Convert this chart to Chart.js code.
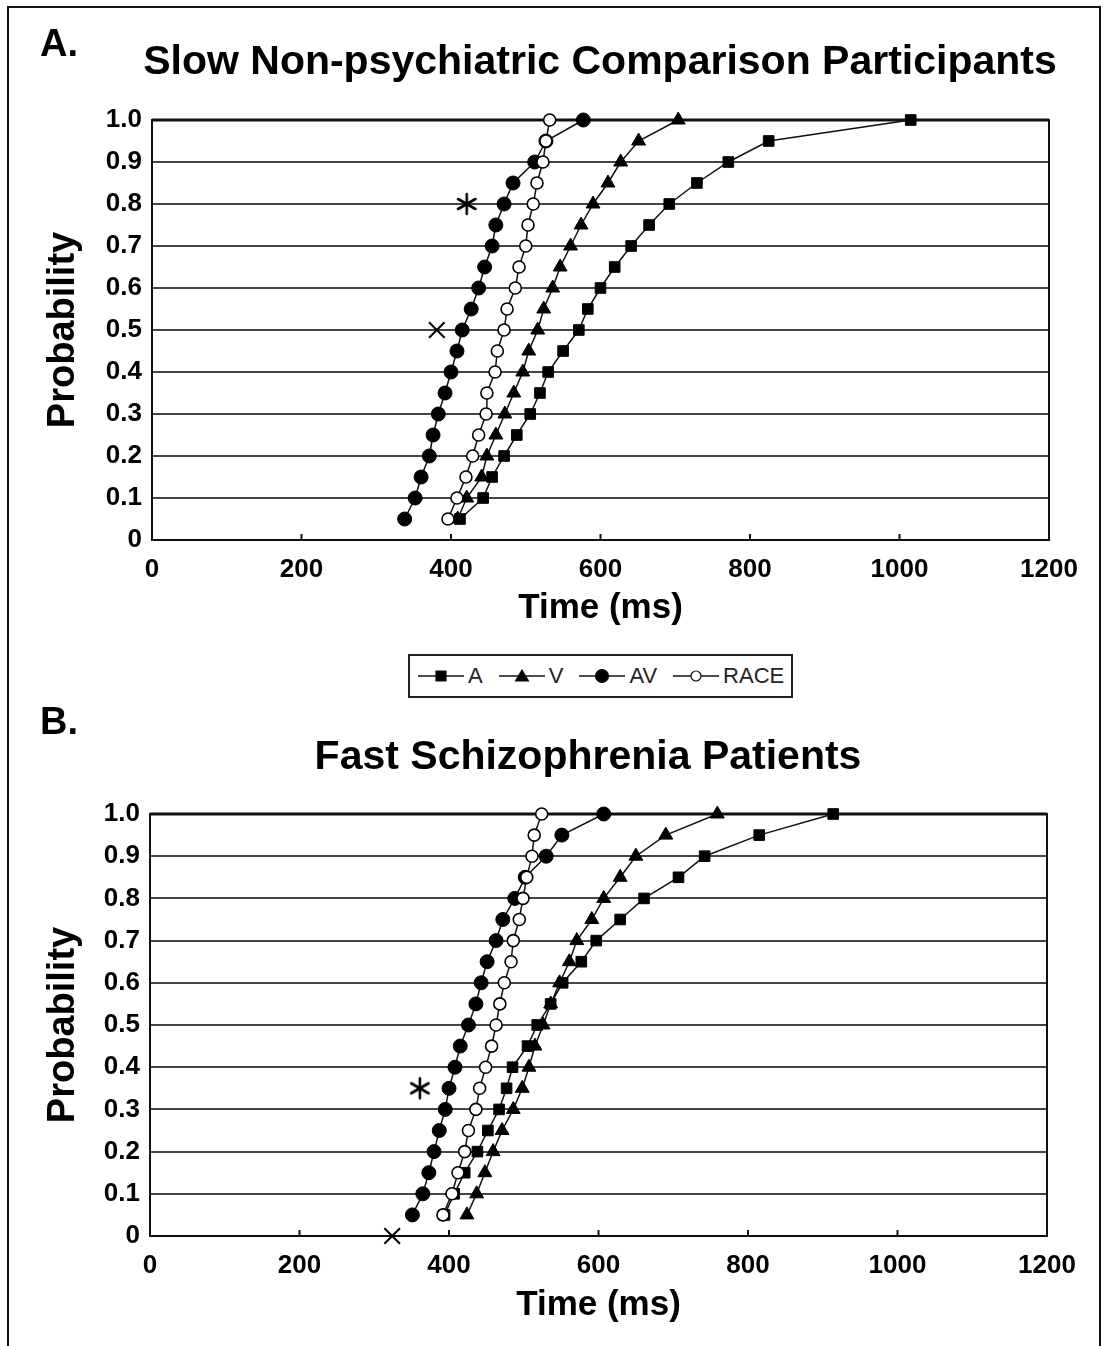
<!DOCTYPE html>
<html>
<head>
<meta charset="utf-8">
<script src="https://cdn.jsdelivr.net/npm/chart.js@4.4.0/dist/chart.umd.min.js"></script>
<style>
  body { margin: 0; background: #fff; width: 1104px; height: 1346px; overflow: hidden; position: relative;
         font-family: "Liberation Sans", Arial, sans-serif; }
  .frame { position: absolute; left: 7px; top: 6px; width: 1090px; height: 1400px; border: 2px solid #111; }
  .panel-label { position: absolute; left: 40px; font-weight: bold; font-size: 38px; line-height: 1; color: #000; }
  .chart-title { position: absolute; width: 1000px; text-align: center; font-weight: bold; font-size: 41px;
                 line-height: 41px; color: #000; white-space: nowrap; }
  #wrapA { position: absolute; left: 0; top: 0; width: 1104px; height: 640px; }
  #wrapB { position: absolute; left: 0; top: 694px; width: 1104px; height: 652px; }
  .legend { position: absolute; left: 408px; top: 654px; width: 374px; height: 40px; border: 2px solid #222;
            display: flex; align-items: center; padding-left: 7px; box-sizing: content-box;
            font-size: 22px; color: #222; }
  .legend span { display: flex; align-items: center; gap: 3px; margin-right: 15px; }
</style>
</head>
<body>
<div class="frame"></div>
<div id="wrapA"><canvas id="chartA" width="1104" height="640"></canvas></div>
<div class="panel-label" style="top:24px">A.</div>
<div class="chart-title" id="titleA" style="left:100px; top:40px"></div>
<div class="legend" id="legend"></div>
<div id="wrapB"><canvas id="chartB" width="1104" height="652"></canvas></div>
<div class="panel-label" style="top:702px">B.</div>
<div class="chart-title" id="titleB" style="left:88px; top:735px"></div>
<script>
// probability levels (quantiles) shared by every series
const probLevels = [0.05, 0.10, 0.15, 0.20, 0.25, 0.30, 0.35, 0.40, 0.45, 0.50,
                    0.55, 0.60, 0.65, 0.70, 0.75, 0.80, 0.85, 0.90, 0.95, 1.00];
const xTickLabels = ['0', '200', '400', '600', '800', '1000', '1200'];
const yTickLabels = ['0', '0.1', '0.2', '0.3', '0.4', '0.5', '0.6', '0.7', '0.8', '0.9', '1.0'];
const seriesNames = ['A', 'V', 'AV', 'RACE'];

// A. Slow non-psychiatric comparison participants (ms)
const slowA    = [412, 443, 455, 471, 488, 506, 519, 530, 550, 571, 583, 600, 619, 641, 665, 692, 729, 771, 825, 1015];
const slowV    = [409, 421, 441, 448, 460, 472, 484, 496, 504, 516, 524, 536, 546, 560, 574, 590, 610, 627, 651, 704];
const slowAV   = [338, 352, 360, 371, 376, 383, 392, 400, 408, 415, 427, 437, 445, 455, 460, 471, 483, 512, 527, 577];
const slowRACE = [396, 408, 420, 429, 437, 447, 448, 459, 462, 471, 475, 486, 491, 500, 503, 510, 515, 523, 527, 532];
// asterisk and cross annotations (time, probability)
const slowStar  = [421, 0.8];
const slowCross = [381, 0.5];

// B. Fast schizophrenia patients (ms)
const fastA    = [394, 407, 421, 438, 452, 467, 477, 485, 505, 518, 536, 552, 577, 597, 629, 661, 707, 742, 815, 914];
const fastV    = [424, 437, 448, 459, 471, 486, 498, 507, 515, 526, 536, 548, 561, 571, 591, 607, 629, 650, 690, 759];
const fastAV   = [351, 365, 373, 380, 387, 395, 400, 408, 415, 426, 436, 443, 451, 463, 472, 488, 502, 530, 551, 607];
const fastRACE = [392, 404, 412, 421, 426, 436, 441, 449, 457, 463, 468, 474, 483, 486, 494, 499, 504, 511, 514, 524];
const fastStar  = [361, 0.35];
const fastCross = [324, 0];

const titleA = 'Slow Non-psychiatric Comparison Participants';
const titleB = 'Fast Schizophrenia Patients';

const FONT = '"Liberation Sans", Arial, sans-serif';
const seriesStyles = {
  A:    { pointStyle: 'rect',     radius: 7.5, fill: '#000', border: 1,   order: 3 },
  V:    { pointStyle: 'triangle', radius: 8,   fill: '#000', border: 1,   order: 2 },
  AV:   { pointStyle: 'circle',   radius: 7,   fill: '#000', border: 1,   order: 1 },
  RACE: { pointStyle: 'circle',   radius: 6,   fill: '#fff', border: 1.6, order: 0 }
};

// six-armed asterisk used as a point style
function asteriskImage() {
  const cv = document.createElement('canvas');
  cv.width = 24; cv.height = 24;
  const c = cv.getContext('2d');
  c.strokeStyle = '#000';
  c.lineWidth = 2.6;
  c.lineCap = 'round';
  [90, 30, 150].forEach(deg => {
    const r = deg * Math.PI / 180, dx = Math.cos(r) * 10, dy = Math.sin(r) * 10;
    c.beginPath(); c.moveTo(12 - dx, 12 - dy); c.lineTo(12 + dx, 12 + dy); c.stroke();
  });
  return cv;
}
const starStyle = asteriskImage();

// frame round the plot plus small inward ticks on the x axis
const framePlugin = {
  id: 'frame',
  beforeDatasetsDraw(chart) {
    const { ctx, chartArea: a } = chart;
    const xs = chart.scales.x;
    ctx.save();
    ctx.strokeStyle = '#111';
    ctx.lineWidth = 2;
    ctx.beginPath();
    xs.ticks.forEach((t, i) => {
      const px = xs.getPixelForTick(i);
      ctx.moveTo(px, a.bottom);
      ctx.lineTo(px, a.bottom - 6);
    });
    ctx.stroke();
    ctx.strokeRect(a.left, a.top, a.right - a.left, a.bottom - a.top);
    ctx.lineWidth = 3;
    ctx.beginPath();
    ctx.moveTo(a.left, a.top);
    ctx.lineTo(a.right, a.top);
    ctx.stroke();
    ctx.restore();
  }
};

function buildDatasets(series, star, cross) {
  const ds = seriesNames.map((name, i) => {
    const st = seriesStyles[name];
    return {
      label: name,
      data: series[i].map((t, k) => ({ x: t, y: probLevels[k] })),
      showLine: true,
      borderColor: '#111',
      borderWidth: 1.5,
      pointStyle: st.pointStyle,
      pointRadius: st.radius,
      pointBackgroundColor: st.fill,
      pointBorderColor: '#000',
      pointBorderWidth: st.border,
      order: st.order,
      clip: false
    };
  });
  ds.push({ label: 'star', data: [{ x: star[0], y: star[1] }], pointStyle: starStyle, pointRadius: 12,
            showLine: false, clip: false, order: 0 });
  ds.push({ label: 'cross', data: [{ x: cross[0], y: cross[1] }], pointStyle: 'crossRot', pointRadius: 11,
            pointBorderColor: '#000', pointBorderWidth: 2, showLine: false, clip: false, order: 0 });
  return ds;
}

function makeChart(id, series, star, cross, dims) {
  new Chart(document.getElementById(id), {
    type: 'scatter',
    data: { datasets: buildDatasets(series, star, cross) },
    options: {
      responsive: false,
      animation: false,
      layout: { padding: { top: 120, left: 0, right: dims.right, bottom: 0 } },
      plugins: {
        legend: { display: false },
        tooltip: { enabled: false }
      },
      scales: {
        x: {
          type: 'linear', min: 0, max: 1200,
          afterFit: s => { s.height = dims.xHeight; },
          grid: { display: false, drawTicks: false },
          border: { display: false },
          ticks: {
            stepSize: 200, padding: 14, color: '#000',
            font: { family: FONT, size: 26, weight: 'bold' },
            callback: (v, i) => xTickLabels[i]
          },
          title: {
            display: true, text: 'Time (ms)', color: '#000',
            font: { family: FONT, size: 35, weight: 'bold' },
            padding: { top: 0, bottom: dims.xTitlePad }
          }
        },
        y: {
          min: 0, max: 1,
          afterFit: s => { s.width = dims.yWidth; },
          grid: { color: '#444', lineWidth: 2, drawTicks: false },
          border: { display: false },
          ticks: {
            stepSize: 0.1, padding: 10, color: '#000',
            font: { family: FONT, size: 26, weight: 'bold' },
            callback: (v, i) => yTickLabels[i]
          },
          title: {
            display: true, text: 'Probability', color: '#000',
            font: { family: FONT, size: 38, weight: 'bold' },
            padding: { top: 41, bottom: 0 }
          }
        }
      }
    },
    plugins: [framePlugin]
  });
}

document.getElementById('titleA').textContent = titleA;
document.getElementById('titleB').textContent = titleB;

makeChart('chartA', [slowA, slowV, slowAV, slowRACE], slowStar, slowCross,
  { right: 55, yWidth: 152, xHeight: 100, xTitlePad: 11 });

makeChart('chartB', [fastA, fastV, fastAV, fastRACE], fastStar, fastCross,
  { right: 57, yWidth: 150, xHeight: 110, xTitlePad: 20 });

// legend: line with marker, then series name
function drawIcon(cv, st) {
  const c = cv.getContext('2d');
  const w = cv.width, h = cv.height, cx = w / 2, cy = h / 2;
  c.strokeStyle = '#111';
  c.lineWidth = 1.5;
  c.beginPath(); c.moveTo(1, cy); c.lineTo(w - 1, cy); c.stroke();
  c.fillStyle = st.fill;
  c.lineWidth = 1.2;
  c.beginPath();
  if (st.pointStyle === 'rect') {
    c.rect(cx - 5, cy - 5, 10, 10);
  } else if (st.pointStyle === 'triangle') {
    c.moveTo(cx, cy - 6); c.lineTo(cx + 6.5, cy + 5); c.lineTo(cx - 6.5, cy + 5); c.closePath();
  } else {
    c.arc(cx, cy, st.fill === '#fff' ? 5 : 6.5, 0, Math.PI * 2);
  }
  c.fill();
  c.stroke();
}
const legendEl = document.getElementById('legend');
seriesNames.forEach(name => {
  const item = document.createElement('span');
  const cv = document.createElement('canvas');
  cv.width = 48; cv.height = 16;
  drawIcon(cv, seriesStyles[name]);
  item.appendChild(cv);
  item.appendChild(document.createTextNode(name));
  legendEl.appendChild(item);
});
</script>
</body>
</html>
